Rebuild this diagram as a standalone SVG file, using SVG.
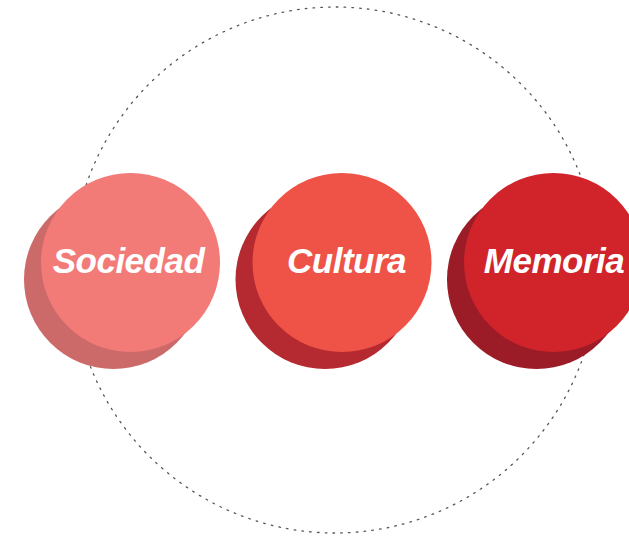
<svg xmlns="http://www.w3.org/2000/svg" width="629" height="545" viewBox="0 0 629 545">
<style>
.ring{fill:none;stroke:#555;stroke-width:1.3;stroke-dasharray:1.6 6.2;stroke-linecap:round}
.lbl{font-family:"Liberation Sans",Arial,sans-serif;font-weight:bold;font-style:italic;font-size:35px;fill:#fff;text-anchor:middle;letter-spacing:-0.5px}
</style>
<rect width="629" height="545" fill="#fff"/>
<g id="connectors">
<circle class="ring" cx="335" cy="270" r="263"/>
</g>
<g id="sociedad">
<circle cx="113.5" cy="279.5" r="89.5" fill="#CC6A6A"/>
<circle cx="130.5" cy="262.5" r="89.5" fill="#F27B78"/>
<text class="lbl" x="128.5" y="272.5">Sociedad</text>
</g>
<g id="cultura">
<circle cx="325" cy="279.5" r="89.5" fill="#B52A30"/>
<circle cx="342" cy="262.5" r="89.5" fill="#EF5246"/>
<text class="lbl" x="346.5" y="272.5">Cultura</text>
</g>
<g id="memoria">
<circle cx="536.5" cy="279.5" r="89.5" fill="#9B1B27"/>
<circle cx="553.5" cy="262.5" r="89.5" fill="#D0232A"/>
<text class="lbl" x="554" y="272.5">Memoria</text>
</g>
</svg>
